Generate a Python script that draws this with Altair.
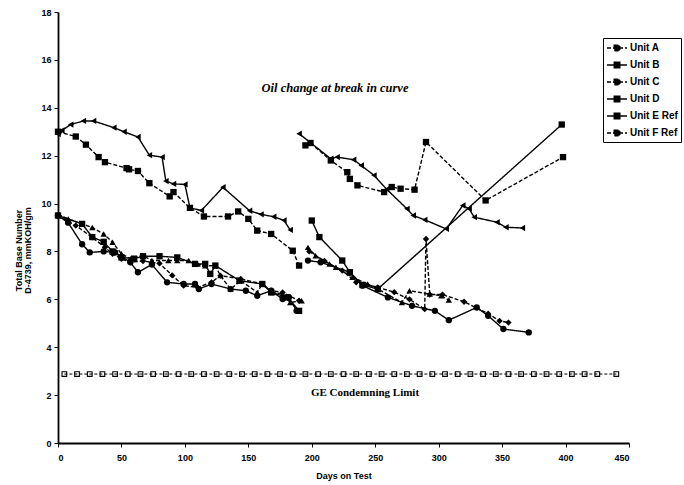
import altair as alt
import pandas as pd

UNITS = ["Unit A", "Unit B", "Unit C", "Unit D", "Unit E Ref", "Unit F Ref"]
SHAPES = ["triangle-up", "circle", "diamond", "square", "triangle-left", "square"]
DASHES = [[4, 2], [1, 0], [4, 2], [1, 0], [1, 0], [4, 2]]

# ---- period 1 (before oil change) ----
A1_day = [0, 8, 19, 27, 36, 43, 50, 57, 67, 74, 87, 94, 103, 110, 116, 124, 128, 136, 144, 157, 161, 169, 177, 183, 192]
A1_tbn = [9.55, 9.36, 9.15, 9.0, 8.73, 8.38, 7.9, 7.7, 7.83, 7.62, 7.62, 7.62, 7.62, 7.48, 7.4, 7.41, 6.99, 6.43, 6.78, 6.29, 6.64, 6.29, 6.22, 5.87, 5.94]
B1_day = [0, 8, 19, 25, 36, 45, 57, 63, 74, 86, 99, 108, 111, 121, 136, 148, 157, 168, 177, 182, 188]
B1_tbn = [9.5, 9.2, 8.3, 7.96, 8.0, 7.96, 7.55, 7.13, 7.45, 6.71, 6.64, 6.64, 6.43, 6.64, 6.43, 6.36, 6.15, 6.36, 6.01, 6.08, 5.52]
C1_day = [0, 14, 27, 37, 43, 50, 57, 67, 80, 90, 99, 110, 121, 128, 144, 161, 168, 177, 190]
C1_tbn = [9.5, 9.08, 8.59, 8.17, 7.9, 7.69, 7.55, 7.6, 7.5, 7.0, 6.57, 6.5, 6.71, 6.99, 6.85, 6.64, 6.36, 6.29, 5.94]
D1_day = [0, 19, 27, 36, 43, 50, 60, 67, 80, 94, 108, 116, 120, 124, 143, 161, 168, 181, 190]
D1_tbn = [9.5, 9.15, 8.6, 8.4, 8.0, 7.75, 7.7, 7.8, 7.8, 7.75, 7.48, 7.48, 7.06, 7.41, 6.78, 6.64, 6.29, 6.08, 5.52]
E1_day = [0, 3, 10, 20, 28, 44, 52, 63, 72, 82, 85, 91, 100, 104, 113, 130, 151, 160, 170, 178, 183]
E1_tbn = [12.9, 13.05, 13.3, 13.45, 13.45, 13.17, 13.0, 12.78, 12.02, 11.94, 10.94, 10.82, 10.8, 9.82, 9.71, 10.68, 9.7, 9.55, 9.45, 9.3, 8.9]
F1_day = [0, 14, 22, 32, 37, 54, 56, 63, 72, 88, 91, 104, 115, 134, 142, 150, 157, 168, 185, 190]
F1_tbn = [13.0, 12.8, 12.46, 11.94, 11.73, 11.48, 11.43, 11.36, 10.85, 10.3, 10.48, 9.82, 9.46, 9.46, 9.67, 9.36, 8.87, 8.73, 8.03, 7.41]

# ---- period 2 (after oil change) ----
A2_day = [197, 203, 214, 219, 232, 244, 252, 271, 277, 293, 302, 308]
A2_tbn = [8.17, 7.82, 7.48, 7.34, 6.92, 6.64, 6.43, 5.87, 6.36, 6.22, 6.15, 5.97]
B2_day = [197, 207, 230, 240, 260, 279, 297, 308, 330, 339, 351, 371]
B2_tbn = [7.62, 7.55, 7.13, 6.57, 6.08, 5.73, 5.52, 5.13, 5.66, 5.31, 4.76, 4.62]
C2_day = [198, 210, 224, 235, 252, 265, 277, 289, 290, 293, 303, 320, 339, 348, 355]
C2_tbn = [8.0, 7.6, 7.2, 6.71, 6.5, 6.3, 6.0, 5.59, 8.52, 6.2, 6.2, 5.9, 5.4, 5.1, 5.03]
D2_day = [200, 206, 224, 230, 240, 252, 397]
D2_tbn = [9.29, 8.6, 7.62, 7.13, 6.6, 6.43, 13.3]
E2_day = [190, 215, 220, 233, 239, 249, 259, 275, 280, 289, 306, 319, 324, 328, 346, 353, 366]
E2_tbn = [12.92, 11.87, 11.94, 11.83, 11.59, 11.18, 10.6, 9.78, 9.5, 9.32, 8.94, 9.92, 9.78, 9.43, 9.22, 9.01, 8.98]
F2_day = [195, 199, 215, 228, 230, 236, 257, 263, 270, 281, 290, 337, 398]
F2_tbn = [12.43, 12.53, 11.8, 11.31, 11.03, 10.76, 10.48, 10.69, 10.62, 10.58, 12.57, 10.13, 11.94]

# ---- GE condemning limit ----
LIMIT_TBN = 2.88
LIMIT_DAYS = [5, 15, 25, 35, 45, 55, 65, 75, 85, 95, 105, 115, 125, 135, 145, 155, 165, 175, 185, 195,
              205, 215, 225, 235, 245, 255, 265, 275, 285, 295, 305, 315, 325, 335, 345, 355, 365, 375,
              385, 395, 405, 415, 425, 440]

X_TICKS = [0, 50, 100, 150, 200, 250, 300, 350, 400, 450]
Y_TICKS = [0, 2, 4, 6, 8, 10, 12, 14, 16, 18]

ANNOTATION = "Oil change at break in curve"
LIMIT_LABEL = "GE Condemning Limit"

series = [
    ("Unit A", 1, A1_day, A1_tbn), ("Unit A", 2, A2_day, A2_tbn),
    ("Unit B", 1, B1_day, B1_tbn), ("Unit B", 2, B2_day, B2_tbn),
    ("Unit C", 1, C1_day, C1_tbn), ("Unit C", 2, C2_day, C2_tbn),
    ("Unit D", 1, D1_day, D1_tbn), ("Unit D", 2, D2_day, D2_tbn),
    ("Unit E Ref", 1, E1_day, E1_tbn), ("Unit E Ref", 2, E2_day, E2_tbn),
    ("Unit F Ref", 1, F1_day, F1_tbn), ("Unit F Ref", 2, F2_day, F2_tbn),
]
rows = []
for unit, period, days, vals in series:
    for d, v in zip(days, vals):
        rows.append({"unit": unit, "key": f"{unit}-{period}", "day": d, "tbn": v})
df = pd.DataFrame(rows)
lim = pd.DataFrame({"day": LIMIT_DAYS, "tbn": [LIMIT_TBN] * len(LIMIT_DAYS)})

FONT = "Liberation Sans"

x_enc = alt.X("day:Q", scale=alt.Scale(domain=[0, 450], nice=False),
              axis=alt.Axis(values=X_TICKS, title="Days on Test", grid=False,
                            labelFont=FONT, labelFontWeight="bold", labelFontSize=9,
                            titleFont=FONT, titleFontWeight="bold", titleFontSize=9,
                            labelColor="black", titleColor="black",
                            domainColor="black", domainWidth=1.8, tickColor="black",
                            tickSize=4, labelPadding=6, titlePadding=9))
y_enc = alt.Y("tbn:Q", scale=alt.Scale(domain=[0, 18], nice=False),
              axis=alt.Axis(values=Y_TICKS, title=["Total Base Number", "D-4739, mmKOH/gm"], grid=False,
                            labelFont=FONT, labelFontWeight="bold", labelFontSize=9,
                            titleFont=FONT, titleFontWeight="bold", titleFontSize=9,
                            titleLineHeight=9,
                            labelColor="black", titleColor="black",
                            domainColor="black", domainWidth=1.8, tickColor="black",
                            tickSize=4, labelPadding=3, titleX=-35, titleY=238))

# legend symbol: short line with a small filled marker on it
LEGEND_SYMBOL = "M-1,0H2.33M0.22,-0.45H1.12V0.45H0.22Z"

base = alt.Chart(df)
lines = base.mark_line(color="black", strokeWidth=1.4).encode(
    x=x_enc, y=y_enc, detail="key:N",
    strokeDash=alt.StrokeDash("unit:N",
                              scale=alt.Scale(domain=UNITS, range=DASHES),
                              legend=alt.Legend(title=None, orient="none", legendX=545, legendY=26,
                                                strokeColor="black", fillColor="white", padding=3,
                                                symbolType=LEGEND_SYMBOL, symbolSize=144, symbolStrokeWidth=1.6,
                                                symbolStrokeColor="black", symbolFillColor="black",
                                                rowPadding=4,
                                                labelFont=FONT, labelFontWeight="bold", labelFontSize=10,
                                                labelColor="black", labelOffset=10)),
)

point_layers = []
for unit, shape in zip(UNITS, SHAPES):
    point_layers.append(
        base.transform_filter(alt.datum.unit == unit)
        .mark_point(shape=shape, filled=True, color="black", size=40, opacity=1)
        .encode(x="day:Q", y="tbn:Q")
    )

lim_line = alt.Chart(lim).mark_line(color="black", strokeWidth=1, strokeDash=[3, 2]).encode(x="day:Q", y="tbn:Q")
lim_pts = alt.Chart(lim).mark_point(shape="square", filled=False, color="black", size=22, strokeWidth=1.1, opacity=1).encode(
    x="day:Q", y="tbn:Q")

ann_text = alt.Chart(pd.DataFrame({"t": [ANNOTATION]})).mark_text(
    font="Liberation Serif", fontWeight="bold", fontStyle="italic", fontSize=12.5, color="black").encode(
    text="t:N", x=alt.value(277), y=alt.value(76))
lim_text = alt.Chart(pd.DataFrame({"t": [LIMIT_LABEL]})).mark_text(
    font="Liberation Serif", fontWeight="bold", fontSize=11, color="black").encode(
    text="t:N", x=alt.value(307), y=alt.value(381))

chart = alt.layer(lim_line, lim_pts, lines, *point_layers, ann_text, lim_text).properties(
    width=571, height=431,
    autosize=alt.AutoSizeParams(type="none"),
    padding={"left": 58, "top": 12, "right": 55, "bottom": 42},
    background="white",
).configure_view(stroke=None)

chart.save("out.html", embed_options={"renderer": "svg", "actions": False})
